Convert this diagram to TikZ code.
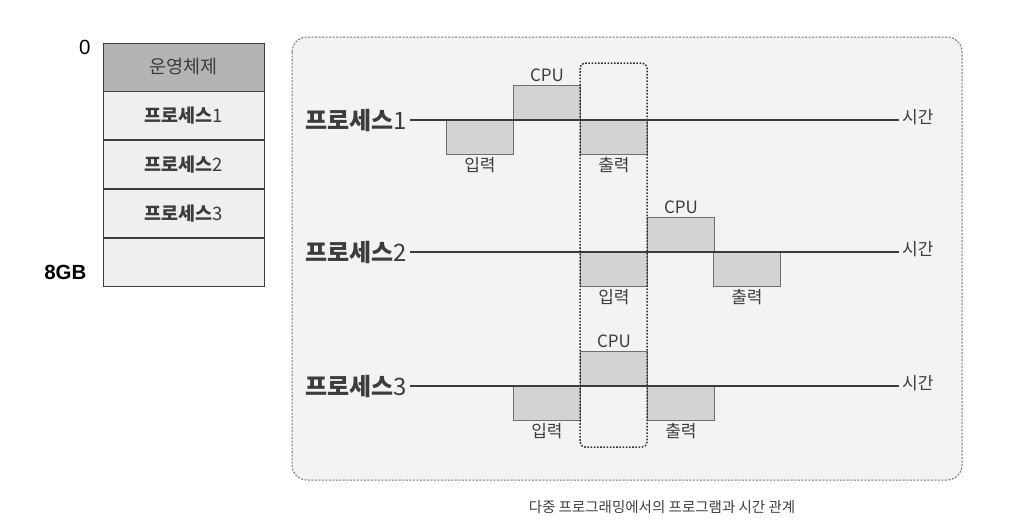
\documentclass[tikz,border=0pt]{standalone}
\usepackage{fontspec}
\setmainfont{Noto Sans CJK KR}
\newfontfamily\latinfont{Liberation Sans}
\usetikzlibrary{positioning}
\definecolor{ink}{HTML}{3C3C3C}
\definecolor{osfill}{HTML}{B4B4B4}
\definecolor{rowfill}{HTML}{EFEFEF}
\definecolor{panelfill}{HTML}{F3F3F3}
\definecolor{slotfill}{HTML}{D3D3D5}
\definecolor{slotedge}{HTML}{6E6E6E}

\begin{document}
\begin{tikzpicture}[x=1pt,y=-1pt,
  memrow/.style={draw=ink,line width=0.9pt,fill=rowfill,minimum width=161pt,minimum height=48pt,inner sep=0pt,
    font=\fontsize{18.5}{18.5}\selectfont\color{ink}},
  memos/.style={memrow,fill=osfill},
  edgelbl/.style={font=\latinfont\fontsize{20.5}{20.5}\selectfont},
  proclbl/.style={inner sep=3pt,font=\fontsize{24}{24}\selectfont\color{ink}},
  timelbl/.style={inner sep=3pt,font=\fontsize{17}{17}\selectfont\color{ink}},
  slot/.style={draw=slotedge,line width=0.9pt,fill=slotfill,minimum width=67pt,minimum height=34pt,inner sep=0pt},
  slotlbl/.style={inner sep=1pt,font=\fontsize{17}{17}\selectfont\color{ink}},
  tline/.style={draw=ink,line width=2.4pt},
  panel/.style={draw=black!55,fill=panelfill,line width=1pt,rounded corners=15pt,dash pattern=on 2pt off 1.5pt},
  window/.style={draw=black!80,line width=1.5pt,rounded corners=5pt,dash pattern=on 1.6pt off 1.6pt},
  caption/.style={font=\fontsize{14.5}{14.5}\selectfont\color{black!75}},
]
\useasboundingbox[fill=white] (0,0) rectangle (1017,523);

% memory layout
\node[memos] (os) at (183.5,67) {운영체제};
\node[memrow,below=0pt of os] (m1) {{\bfseries 프로세스}1};
\node[memrow,below=0pt of m1] (m2) {{\bfseries 프로세스}2};
\node[memrow,below=0pt of m2] (m3) {{\bfseries 프로세스}3};
\node[memrow,below=0pt of m3] (m4) {};
\node[edgelbl,anchor=east] (zero) at (94,47) {0};
\node[edgelbl,anchor=east] (size) at (90,272) {\bfseries 8GB};

% time chart
\draw[panel] (292,37) rectangle (962,480);

\node[slot,anchor=north west] (in1) at (446,120) {};
\node[slot,anchor=south west] (cpu1) at (513,120) {};
\node[slot,anchor=north west] (out1) at (580,120) {};
\node[slot,anchor=north west] (in2) at (580,252) {};
\node[slot,anchor=south west] (cpu2) at (647,252) {};
\node[slot,anchor=north west] (out2) at (713,252) {};
\node[slot,anchor=north west] (in3) at (513,386) {};
\node[slot,anchor=south west] (cpu3) at (580,386) {};
\node[slot,anchor=north west] (out3) at (647,386) {};

\node[slotlbl,below=1pt of in1] {입력};
\node[slotlbl,above=2pt of cpu1] {CPU};
\node[slotlbl,below=1pt of out1] {출력};
\node[slotlbl,below=1pt of in2] {입력};
\node[slotlbl,above=2pt of cpu2] {CPU};
\node[slotlbl,below=1pt of out2] {출력};
\node[slotlbl,below=1pt of in3] {입력};
\node[slotlbl,above=2pt of cpu3] {CPU};
\node[slotlbl,below=1pt of out3] {출력};

\node[proclbl,anchor=east] (p1) at (410,120) {{\bfseries 프로세스}1};
\node[proclbl,anchor=east] (p2) at (410,252) {{\bfseries 프로세스}2};
\node[proclbl,anchor=east] (p3) at (410,386) {{\bfseries 프로세스}3};
\node[timelbl,anchor=west] (t1) at (899,117) {시간};
\node[timelbl,anchor=west] (t2) at (899,249) {시간};
\node[timelbl,anchor=west] (t3) at (899,383) {시간};
\draw[tline] (p1.east) -- (p1.east -| t1.west);
\draw[tline] (p2.east) -- (p2.east -| t2.west);
\draw[tline] (p3.east) -- (p3.east -| t3.west);

\draw[window] (580,63) rectangle (647,447);

\node[caption] (cap) at (662,507) {다중 프로그래밍에서의 프로그램과 시간 관계};
\end{tikzpicture}
\end{document}
